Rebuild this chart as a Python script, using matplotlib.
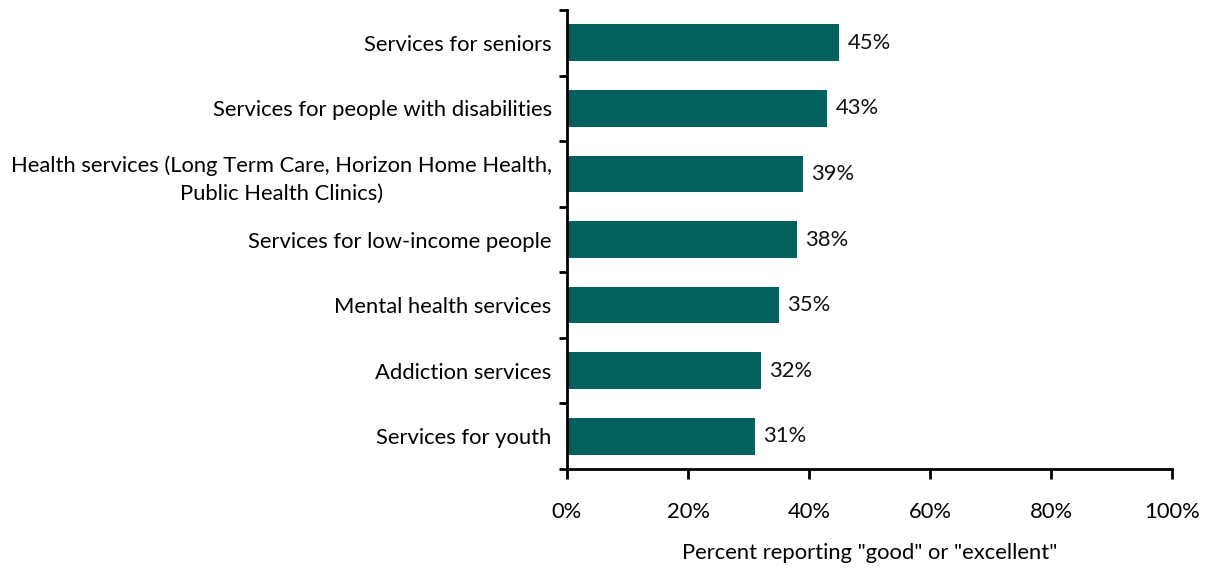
import matplotlib
matplotlib.use("Agg")
import matplotlib.pyplot as plt
from matplotlib.ticker import FixedLocator, PercentFormatter

plt.rcParams['font.family'] = ['Lato', 'DejaVu Sans']

categories = [
    "Services for seniors",
    "Services for people with disabilities",
    "Health services (Long Term Care, Horizon Home Health,\nPublic Health Clinics)",
    "Services for low-income people",
    "Mental health services",
    "Addiction services",
    "Services for youth",
]
values = [45, 43, 39, 38, 35, 32, 31]
x_ticks = [0, 20, 40, 60, 80, 100]
x_label = 'Percent reporting "good" or "excellent"'

bar_color = "#02615D"
fs = 15.8

fig = plt.figure(figsize=(12.09, 5.69), dpi=100)
ax = fig.add_axes([567 / 1209, 1 - 469 / 569, (1172 - 567) / 1209, (469 - 10) / 569])

n = len(categories)
ypos = list(range(n))
ax.barh(ypos, values, height=0.56, color=bar_color, zorder=2)
ax.set_ylim(n - 0.5, -0.5)
ax.set_xlim(0, 100)

for y, v in zip(ypos, values):
    ax.text(v + 1.4, y, f"{v}%", va="center", ha="left", fontsize=fs, color="#111111")

ax.set_yticks(ypos)
ax.set_yticklabels(categories, fontsize=fs, multialignment="center", linespacing=1.45)
ax.tick_params(axis="y", which="major", length=0, pad=11)
ax.yaxis.set_minor_locator(FixedLocator([i - 0.5 for i in range(n + 1)]))
ax.tick_params(axis="y", which="minor", length=6, width=2, direction="out")

ax.set_xticks(x_ticks)
ax.xaxis.set_major_formatter(PercentFormatter(decimals=0))
ax.tick_params(axis="x", which="major", length=7, width=2, direction="out",
               labelsize=fs, pad=17)
ax.set_xlabel(x_label, fontsize=fs, labelpad=15)

for side in ("top", "right"):
    ax.spines[side].set_visible(False)
for side in ("left", "bottom"):
    ax.spines[side].set_linewidth(2)

fig.savefig("out.png", dpi=100)
